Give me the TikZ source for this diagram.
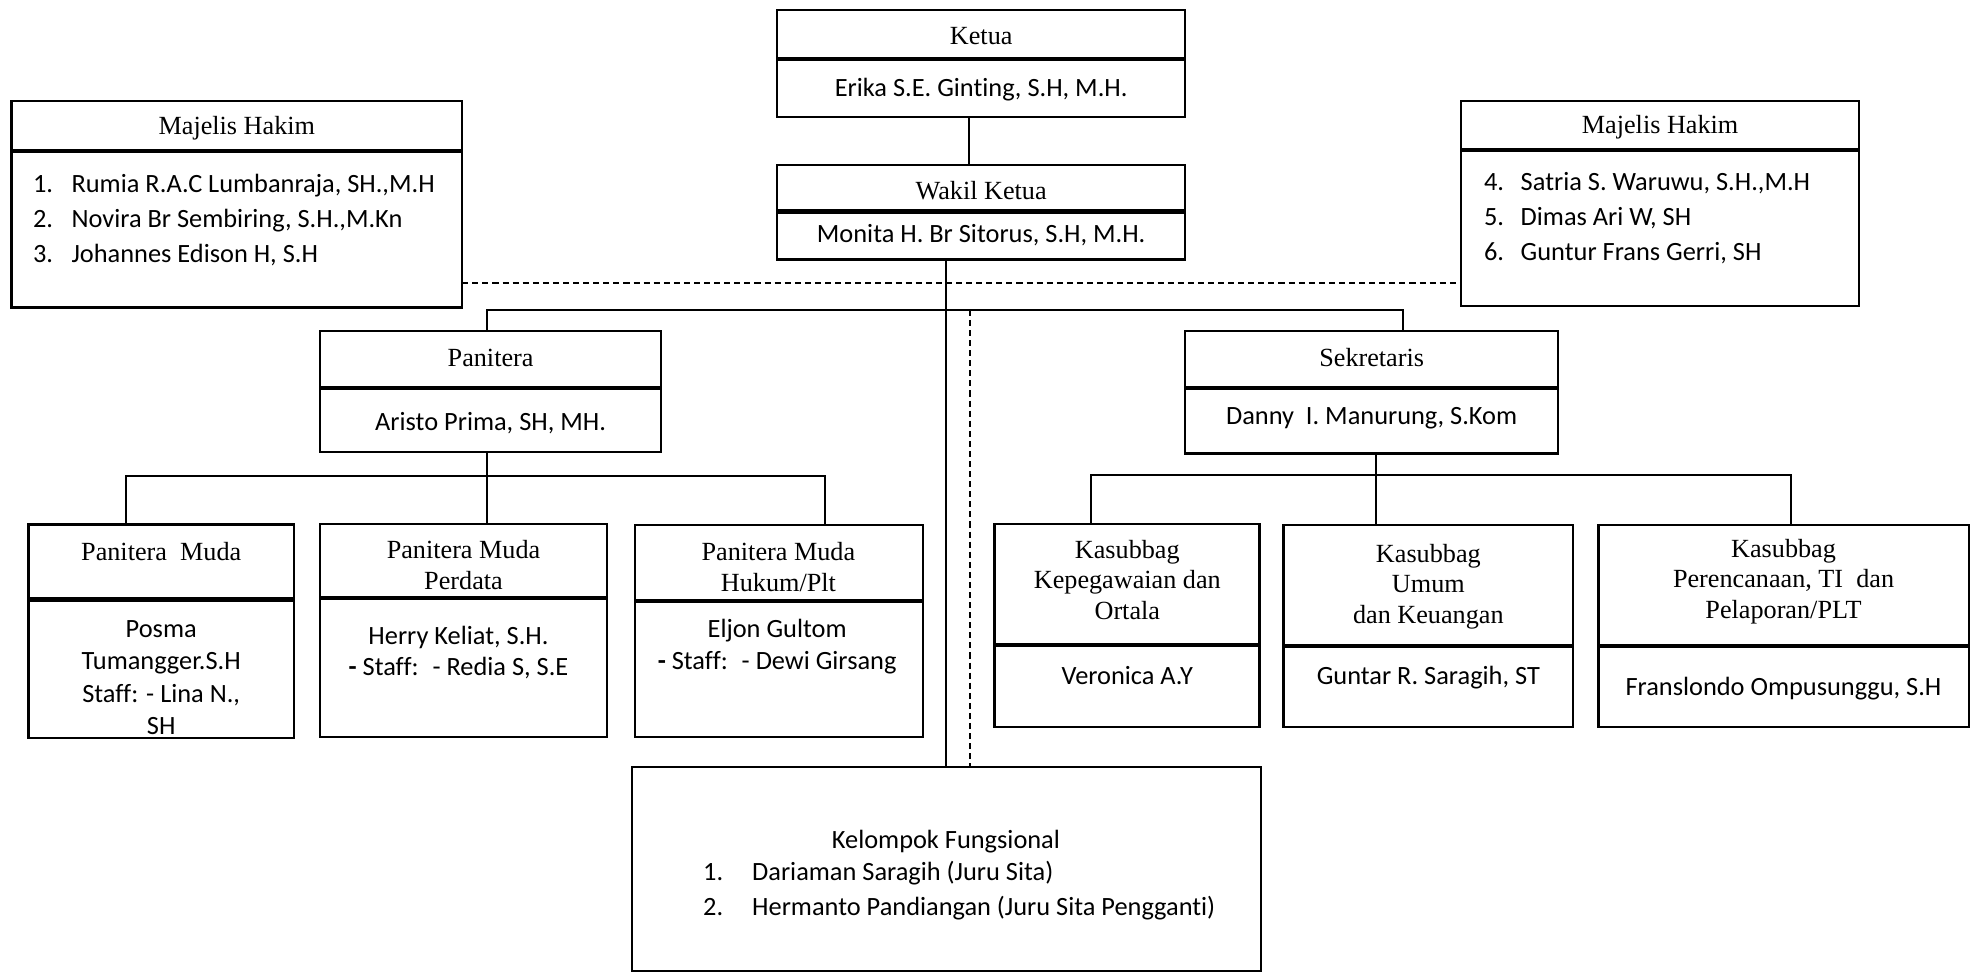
\documentclass[tikz,border=0pt]{standalone}
\usepackage{fontspec}
\setmainfont{Liberation Serif}
\newfontfamily\calibri{Carlito}[Ligatures=NoCommon]
\usetikzlibrary{fit}

\newcommand\numbox[2][1.46em]{\makebox[#1][l]{#2}}

\begin{document}
\begin{tikzpicture}[
    x=0.75pt, y=-0.75pt,
    box node/.style={draw, line width=1.4pt, inner sep=0pt, outer sep=0pt},
    divider line/.style={line width=2.6pt},
    title node/.style={font=\fontsize{15.6}{18.2}\selectfont, align=center, inner sep=0pt},
    name node/.style={font=\calibri\fontsize{15.7}{19.3}\selectfont, align=center, inner sep=0pt},
    list node/.style={font=\calibri\fontsize{15.7}{20.8}\selectfont, align=left, anchor=west, inner sep=0pt},
    connector line/.style={draw, line width=1.2pt},
    dashed line/.style={draw, line width=1.1pt, dash pattern=on 3.6pt off 2.4pt}
]

%================CANVAS================
\useasboundingbox (0,0) rectangle (1568,771);

% --- 1. Boxes: title part on top, name part below ---
\foreach \nm/\xa/\xb/\ya/\ym/\yb in {
    ketua/617/941/8/47/93,
    wakil/617/941/131/168/206,
    hakimL/9/367/80/120/244,
    hakimR/1160/1476/80/119/243,
    panitera/254/525/263/308/359,
    sekretaris/941/1237/263/308/360,
    pmA/22.6/233.5/416.5/476/586,
    pmB/254/482/416/475/585,
    pmC/504/733/417/477/585,
    kasA/789.5/1000/416/512/577.4,
    kasB/1019/1249/417/513/577.4,
    kasC/1269/1563/417/513/577.4%
} {
    \node[box node, fit={(\xa,\ya) (\xb,\ym)}] (\nm Head) {};
    \node[box node, fit={(\xa,\ym) (\xb,\yb)}] (\nm Body) {};
    \draw[divider line] (\nm Head.south west) -- (\nm Head.south east);
}
\node[box node, fit={(502,609) (1001,771)}] (kelompok) {};

% --- 2. Joints of the connectors ---
\coordinate (kJoin) at (769,0);
\coordinate (trunk) at (751,0);
\coordinate (dashTrunk) at (770,246);
\coordinate (dashY) at (0,225);
\coordinate (hubL) at (387,246);
\coordinate (hubR) at (1114,246);
\coordinate (pJoin) at (387,377.6);
\coordinate (pDropA) at (100,377.6);
\coordinate (pDropC) at (654.6,377.6);
\coordinate (sJoin) at (1092.7,377);
\coordinate (sDropA) at (866,377);
\coordinate (sDropC) at (1422,377);

% --- 3. Connectors ---
\draw[connector line] (ketuaBody.south -| kJoin) -- (wakilHead.north -| kJoin);
\draw[connector line] (wakilBody.south -| trunk) -- (kelompok.north -| trunk);
\draw[connector line] (paniteraHead.north -| hubL) -- (hubL) -- (hubR) -- (sekretarisHead.north -| hubR);
\draw[dashed line] (hakimLBody.east |- dashY) -- (hakimRBody.west |- dashY);
\draw[dashed line] (dashTrunk) -- (kelompok.north -| dashTrunk);

% Panitera branch
\draw[connector line] (paniteraBody.south -| pJoin) -- (pmBHead.north -| pJoin);
\draw[connector line] (pmAHead.north -| pDropA) -- (pDropA) -- (pDropC) -- (pmCHead.north -| pDropC);

% Sekretaris branch
\draw[connector line] (sekretarisBody.south -| sJoin) -- (kasBHead.north -| sJoin);
\draw[connector line] (kasAHead.north -| sDropA) -- (sDropA) -- (sDropC) -- (kasCHead.north -| sDropC);

% --- 4. Texts ---
\node[title node] (ketuaTitle) at (779,29) {Ketua};
\node[name node] (ketuaName) at (779,71.5) {Erika S.E. Ginting, S.H, M.H.};
\node[title node] (wakilTitle) at (779,151.4) {Wakil Ketua};
\node[name node] (wakilName) at (779,187) {Monita H. Br Sitorus, S.H, M.H.};

\node[title node] (hakimLTitle) at (188,102) {Majelis Hakim};
\node[list node] (hakimLList) at (26,174.7) {\numbox{1.}Rumia R.A.C Lumbanraja, SH.,M.H\\
    \numbox{2.}Novira Br Sembiring, S.H.,M.Kn\\
    \numbox{3.}Johannes Edison H, S.H};
\node[title node] (hakimRTitle) at (1318,101) {Majelis Hakim};
\node[list node] (hakimRList) at (1178,173.3) {\numbox[1.39em]{4.}Satria S. Waruwu, S.H.,M.H\\
    \numbox[1.39em]{5.}Dimas Ari W, SH\\
    \numbox[1.39em]{6.}Guntur Frans Gerri, SH};

\node[title node] (paniteraTitle) at (389.5,284) {Panitera};
\node[name node] (paniteraName) at (389.5,335.6) {Aristo Prima, SH, MH.};
\node[title node] (sekretarisTitle) at (1089,284) {Sekretaris};
\node[name node] (sekretarisName) at (1089,332) {Danny~ I. Manurung, S.Kom};

\node[title node] (pmATitle) at (128,438) {Panitera~ Muda};
\node[name node] (pmAName) at (128,538) {Posma\\ Tumangger.S.H\\ Staff: - Lina N.,\\ SH};
\node[title node] (pmBTitle) at (368,448.8) {Panitera Muda\\ Perdata};
\node[name node, font=\calibri\fontsize{15.7}{18.7}\selectfont] (pmBName) at (364,518) {Herry Keliat, S.H.\\ \textbf{-} Staff:~ - Redia S, S.E};
\node[title node] (pmCTitle) at (618,450.3) {Panitera Muda\\ Hukum/Plt};
\node[name node] (pmCName) at (617,513.3) {Eljon Gultom\\ \textbf{-} Staff:~ - Dewi Girsang};

\node[title node] (kasATitle) at (895,460.5) {Kasubbag\\ Kepegawaian dan\\ Ortala};
\node[name node] (kasAName) at (895,536) {Veronica A.Y};
\node[title node] (kasBTitle) at (1134,465.5) {Kasubbag\\ Umum\\ dan Keuangan};
\node[name node] (kasBName) at (1134,537.7) {Guntar R. Saragih, ST};
\node[title node] (kasCTitle) at (1416,461.8) {Kasubbag\\ Perencanaan, TI~ dan\\ Pelaporan/PLT};
\node[name node] (kasCName) at (1416,546.5) {Franslondo Ompusunggu, S.H};

\node[name node] (kelompokTitle) at (751,668) {Kelompok Fungsional};
\node[list node, font=\calibri\fontsize{15.7}{21}\selectfont] (kelompokList) at (558,707) {\numbox[1.86em]{1.}Dariaman Saragih (Juru Sita)\\
    \numbox[1.86em]{2.}Hermanto Pandiangan (Juru Sita Pengganti)};

\end{tikzpicture}
\end{document}
